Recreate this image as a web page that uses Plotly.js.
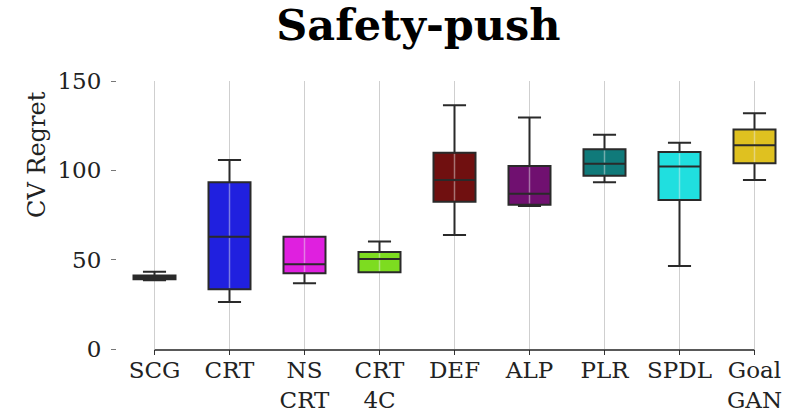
<!DOCTYPE html>
<html>
<head>
<meta charset="utf-8">
<script src="https://cdn.plot.ly/plotly-3.0.1.min.js"></script>
<style>html,body{margin:0;padding:0;background:#fff;}#chart{width:794px;height:413px;}</style>
</head>
<body>
<div id="chart"></div>
<script>
const categories = ["SCG", "CRT", "NS<br>CRT", "CRT<br>4C", "DEF", "ALP", "PLR", "SPDL", "Goal<br>GAN"];
const lowerFence = [38.5, 26.3, 36.8, 42.9, 63.8, 80.0, 93.3, 46.4, 94.6];
const q1Values   = [39.0, 33.4, 42.4, 42.9, 82.4, 80.8, 97.0, 83.4, 103.9];
const medians    = [40.0, 62.8, 47.4, 50.4, 94.6, 86.9, 103.7, 102.2, 114.0];
const q3Values   = [41.2, 93.3, 62.8, 54.3, 109.9, 102.4, 111.8, 110.2, 122.9];
const upperFence = [43.3, 105.8, 62.8, 60.1, 136.4, 129.6, 119.9, 115.4, 131.9];
const colors = ["#1e1e1e", "#2020df", "#df20df", "#7ddc20", "#701010", "#701070", "#107a7a", "#20dfdf", "#dfc120"];
const yTicks = [0, 50, 100, 150];

const serif = "DejaVu Serif";
const traces = categories.map((c, i) => ({
  type: "box",
  x: [c],
  q1: [q1Values[i]],
  median: [medians[i]],
  q3: [q3Values[i]],
  lowerfence: [lowerFence[i]],
  upperfence: [upperFence[i]],
  fillcolor: colors[i],
  line: {color: "#2a2a2a", width: 2},
  whiskerwidth: 0.55,
  boxpoints: false,
  showlegend: false,
  hoverinfo: "skip"
}));

const shapes = [];
shapes.push({type: "line", xref: "x", yref: "paper", x0: 0, x1: categories.length - 1, y0: -0.004, y1: -0.004,
  line: {color: "#222", width: 1.5}, layer: "above"});
const gap = 0.7;
categories.forEach((c, i) => {
  const segs = [[q1Values[i] + gap, medians[i] - gap], [medians[i] + gap, q3Values[i] - gap]];
  segs.forEach(s => {
    if (s[1] - s[0] > 0.5) {
      shapes.push({type: "line", xref: "x", yref: "y", x0: i, x1: i, y0: s[0], y1: s[1],
        line: {color: "rgba(235,235,235,0.45)", width: 1.5}, layer: "above"});
    }
  });
});

const layout = {
  width: 794, height: 413,
  margin: {l: 117, r: 2, t: 81, b: 64},
  paper_bgcolor: "#fff", plot_bgcolor: "#fff",
  boxmode: "overlay", boxgap: 0.2,
  font: {family: serif, color: "#222", size: 23},
  title: {text: "<b>Safety-push</b>", font: {family: serif, size: 43, color: "#000"},
    x: 0.527, xanchor: "center", y: 0.94, yanchor: "middle", yref: "container"},
  xaxis: {
    type: "category", range: [-0.5, 8.5], showgrid: true, gridcolor: "#cfcfcf", gridwidth: 1,
    showline: false, zeroline: false, ticks: "outside", ticklen: 5, tickcolor: "#333", tickwidth: 1,
    ticklabelstandoff: -5,
    tickfont: {family: serif, size: 23, color: "#222"}, fixedrange: true
  },
  yaxis: {
    range: [0, 150], tickvals: yTicks, showgrid: false, zeroline: false, showline: false,
    ticks: "outside", ticklen: 5, tickcolor: "#777", tickwidth: 1, ticklabelstandoff: 5,
    tickfont: {family: serif, size: 23, color: "#222"}, fixedrange: true
  },
  annotations: [{
    text: "CV Regret", xref: "paper", yref: "paper", x: -0.1185, y: 0.724,
    xanchor: "center", yanchor: "middle", textangle: -90, showarrow: false,
    font: {family: serif, size: 24, color: "#222"}
  }],
  shapes: shapes
};

Plotly.newPlot("chart", traces, layout, {staticPlot: true, displayModeBar: false});
</script>
</body>
</html>
